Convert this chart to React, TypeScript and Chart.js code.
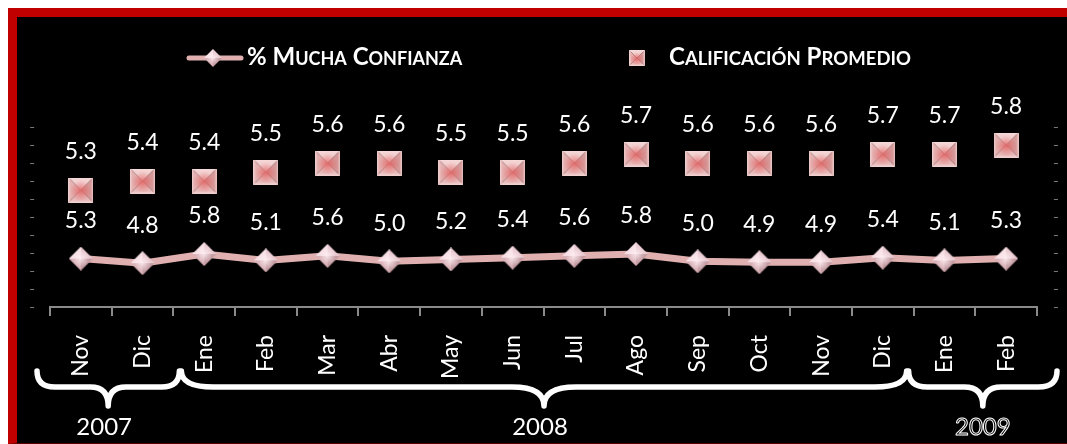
import React, { useEffect, useRef } from 'react';
import { Chart, registerables } from 'chart.js';

Chart.register(...registerables);

// ---------- data ----------
const months = ['Nov', 'Dic', 'Ene', 'Feb', 'Mar', 'Abr', 'May', 'Jun', 'Jul', 'Ago', 'Sep', 'Oct', 'Nov', 'Dic', 'Ene', 'Feb'];
const muchaConfianza = [5.3, 4.8, 5.8, 5.1, 5.6, 5.0, 5.2, 5.4, 5.6, 5.8, 5.0, 4.9, 4.9, 5.4, 5.1, 5.3];
const calificacionPromedio = [5.3, 5.4, 5.4, 5.5, 5.6, 5.6, 5.5, 5.5, 5.6, 5.7, 5.6, 5.6, 5.6, 5.7, 5.7, 5.8];
const seriesNames = ['% Mucha Confianza', 'Calificación Promedio'];
const years = ['2007', '2008', '2009'];
const yearFirstIndex = [0, 2, 14];
const yearEndIndex = [2, 14, 16];

const FONT = 'Lato, "Open Sans", sans-serif';
const LINE_COLOR = '#e0b0b0';
const AXIS_COLOR = '#8a8a8a';

function poly(g: CanvasRenderingContext2D, pts: number[][], color: string) {
  g.beginPath();
  g.moveTo(pts[0][0], pts[0][1]);
  for (let i = 1; i < pts.length; i++) g.lineTo(pts[i][0], pts[i][1]);
  g.closePath();
  g.fillStyle = color;
  g.fill();
}

function makeSquare(s: number) {
  const c = document.createElement('canvas');
  c.width = s;
  c.height = s;
  const g = c.getContext('2d')!;
  const m = s / 2;
  poly(g, [[0, 0], [s, 0], [m, m]], '#f3d2d2');
  poly(g, [[0, 0], [m, m], [0, s]], '#e4b0b0');
  poly(g, [[s, 0], [s, s], [m, m]], '#d69a9a');
  poly(g, [[0, s], [m, m], [s, s]], '#e8baba');
  const rg = g.createRadialGradient(m, m + 1, 0, m, m + 1, s * 0.42);
  rg.addColorStop(0, 'rgba(228,95,95,0.8)');
  rg.addColorStop(1, 'rgba(228,95,95,0)');
  g.fillStyle = rg;
  g.fillRect(0, 0, s, s);
  g.strokeStyle = 'rgba(250,225,225,0.55)';
  g.lineWidth = 1.5;
  g.strokeRect(0.75, 0.75, s - 1.5, s - 1.5);
  return c;
}

function makeDiamond(s: number) {
  const c = document.createElement('canvas');
  c.width = s;
  c.height = s;
  const g = c.getContext('2d')!;
  const m = s / 2;
  poly(g, [[0, m], [m, 0], [m, m]], '#f7e0e6');
  poly(g, [[m, 0], [s, m], [m, m]], '#eacbd2');
  poly(g, [[s, m], [m, s], [m, m]], '#c49ca2');
  poly(g, [[m, s], [0, m], [m, m]], '#d9b2b8');
  const rg = g.createRadialGradient(m, m, 0, m, m, s * 0.35);
  rg.addColorStop(0, 'rgba(255,240,244,0.85)');
  rg.addColorStop(1, 'rgba(255,240,244,0)');
  g.fillStyle = rg;
  g.beginPath();
  g.moveTo(0, m); g.lineTo(m, 0); g.lineTo(s, m); g.lineTo(m, s); g.closePath();
  g.fill();
  return c;
}

function drawSmallCaps(ctx: CanvasRenderingContext2D, text: string, x: number, baseline: number, big: number, small: number) {
  ctx.textAlign = 'left';
  ctx.textBaseline = 'alphabetic';
  ctx.fillStyle = '#ffffff';
  let cx = x;
  for (const c of text) {
    const up = c.toUpperCase();
    const isLower = c !== up;
    ctx.font = `bold ${isLower ? small : big}px ${FONT}`;
    ctx.fillText(up, cx, baseline);
    cx += ctx.measureText(up).width;
  }
  return cx;
}

export default function App() {
  const ref = useRef<HTMLCanvasElement>(null);

  useEffect(() => {
    const canvas = ref.current;
    if (!canvas) return;
    const squareImg = makeSquare(25);
    const diamondImg = makeDiamond(24);
    const squareSmall = makeSquare(16);
    const diamondSmall = makeDiamond(18);

    const valueLabels = {
      id: 'valueLabels',
      afterDatasetsDraw(chart: any) {
        const ctx = chart.ctx;
        ctx.save();
        ctx.font = `23px ${FONT}`;
        ctx.fillStyle = '#ffffff';
        ctx.textAlign = 'center';
        ctx.textBaseline = 'middle';
        chart.data.datasets.forEach((ds: any, di: number) => {
          const meta = chart.getDatasetMeta(di);
          meta.data.forEach((pt: any, i: number) => {
            ctx.fillText(Number(ds.data[i]).toFixed(1), pt.x, pt.y - 38);
          });
        });
        ctx.restore();
      },
    };

    const customLegend = {
      id: 'customLegend',
      afterDraw(chart: any) {
        const ctx = chart.ctx;
        ctx.save();
        const ly = 41;
        ctx.strokeStyle = LINE_COLOR;
        ctx.lineWidth = 5;
        ctx.lineCap = 'round';
        ctx.beginPath();
        ctx.moveTo(172, ly);
        ctx.lineTo(224, ly);
        ctx.stroke();
        ctx.drawImage(diamondSmall, 196 - 9, ly - 9, 18, 18);
        drawSmallCaps(ctx, seriesNames[0], 230, 48, 24, 18);
        ctx.drawImage(squareSmall, 620 - 8, ly - 8, 16, 16);
        drawSmallCaps(ctx, seriesNames[1], 652, 48, 24, 18.5);
        ctx.restore();
      },
    };

    const yearBraces = {
      id: 'yearBraces',
      afterDraw(chart: any) {
        const xs = chart.scales.x;
        const ctx = chart.ctx;
        const w = (xs.right - xs.left) / months.length;
        const b = (k: number) => xs.left + k * w;
        const startOff = [-13, 8, -5];
        const endOff = [6, -7, 20];
        const top = 354, mid = 370, bot = 389;
        ctx.save();
        ctx.strokeStyle = '#ffffff';
        ctx.lineCap = 'round';
        ctx.lineJoin = 'round';
        years.forEach((yr, i) => {
          const x1 = b(yearFirstIndex[i]) + startOff[i];
          const x2 = b(yearEndIndex[i]) + endOff[i];
          const xm = (x1 + x2) / 2;
          const r = Math.min(32, (x2 - x1) / 8);
          ctx.lineWidth = 5.5;
          ctx.beginPath();
          ctx.moveTo(x1, top);
          ctx.quadraticCurveTo(x1, mid, x1 + r, mid);
          ctx.lineTo(xm - r, mid);
          ctx.quadraticCurveTo(xm, mid, xm, bot);
          ctx.quadraticCurveTo(xm, mid, xm + r, mid);
          ctx.lineTo(x2 - r, mid);
          ctx.quadraticCurveTo(x2, mid, x2, top);
          ctx.stroke();

          ctx.font = `24px ${FONT}`;
          ctx.textAlign = 'center';
          ctx.textBaseline = 'middle';
          if (i === years.length - 1) {
            ctx.lineWidth = 1;
            ctx.strokeText(yr, xm, 410);
          } else {
            ctx.fillStyle = '#ffffff';
            ctx.fillText(yr, xm - 4, 410);
          }
        });
        ctx.restore();
      },
    };

    const chart = new Chart(canvas, {
      type: 'line',
      data: {
        labels: months,
        datasets: [
          {
            label: seriesNames[0],
            data: muchaConfianza,
            yAxisID: 'y2',
            borderColor: LINE_COLOR,
            borderWidth: 7,
            tension: 0,
            pointStyle: diamondImg as any,
            pointRadius: 12,
            clip: false as any,
          },
          {
            label: seriesNames[1],
            data: calificacionPromedio,
            yAxisID: 'y',
            showLine: false,
            pointStyle: squareImg as any,
            pointRadius: 12,
            clip: false as any,
          },
        ],
      },
      options: {
        responsive: false,
        animation: false,
        devicePixelRatio: 1,
        layout: { padding: { top: 110, left: 0, right: 0, bottom: 0 } },
        plugins: {
          legend: { display: false },
          tooltip: { enabled: false },
        },
        scales: {
          x: {
            offset: true,
            grid: {
              display: true,
              offset: true,
              drawOnChartArea: false,
              drawTicks: true,
              tickLength: 9,
              color: AXIS_COLOR,
              lineWidth: 2,
            },
            border: { display: true, color: AXIS_COLOR, width: 2 },
            ticks: {
              color: '#ffffff',
              font: { family: FONT, size: 23 },
              padding: 19,
              autoSkip: false,
              minRotation: 90,
              maxRotation: 90,
            },
            afterFit: (s: any) => { s.height = 136; },
          },
          y: {
            position: 'left',
            min: 4,
            max: 6,
            grid: { display: false, drawTicks: false },
            border: { display: false },
            ticks: {
              count: 11,
              padding: 15,
              color: '#b5b5b5',
              font: { family: FONT, size: 10 },
              callback: () => '–',
            },
            afterFit: (s: any) => { s.width = 33; },
          },
          y2: {
            position: 'right',
            min: 0,
            max: 19.7,
            grid: { display: false, drawTicks: false },
            border: { display: false },
            ticks: {
              count: 11,
              padding: 16,
              color: '#b5b5b5',
              font: { family: FONT, size: 10 },
              callback: () => '–',
            },
            afterFit: (s: any) => { s.width = 30; },
          },
        },
      } as any,
      plugins: [valueLabels, customLegend, yearBraces],
    });

    return () => chart.destroy();
  }, []);

  return (
    <div
      style={{
        position: 'fixed',
        left: 8,
        top: 8,
        width: 1059,
        height: 436,
        boxSizing: 'border-box',
        borderLeft: '9px solid #c00000',
        borderTop: '9px solid #c00000',
        borderBottom: '1px solid #5a0000',
        background: '#000000',
        overflow: 'hidden',
      }}
    >
      <canvas ref={ref} width={1050} height={426} style={{ display: 'block' }} />
    </div>
  );
}
